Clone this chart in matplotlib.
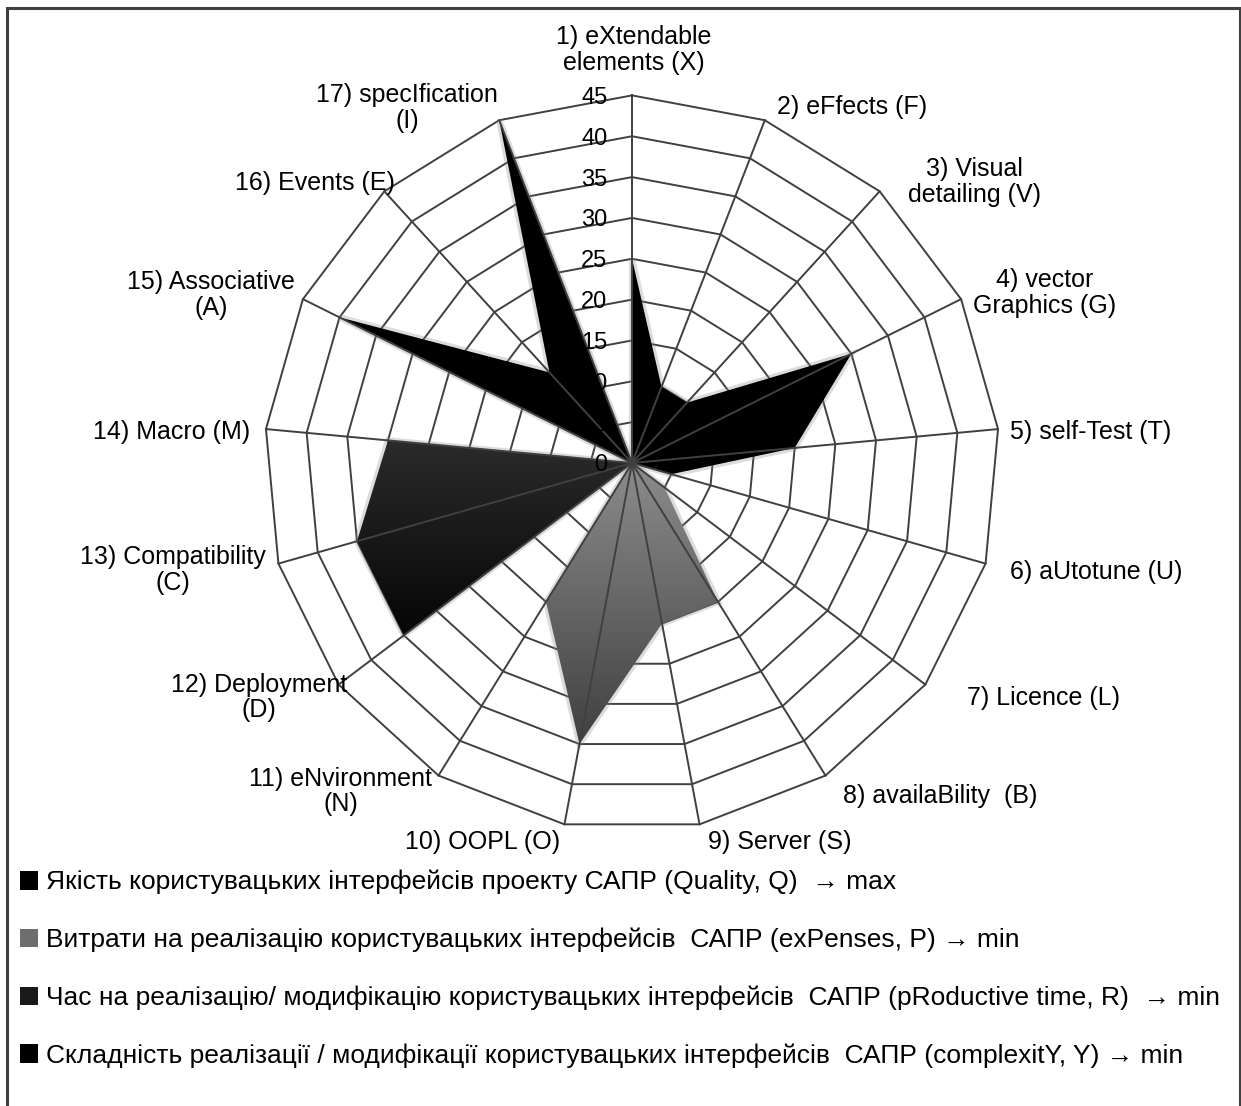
import numpy as np
import matplotlib
matplotlib.use("Agg")
import matplotlib.pyplot as plt
from matplotlib.patches import Polygon, Rectangle, Patch

# criteria (17 axes, clockwise from the top)
categories = [
    "1) eXtendable\nelements (X)", "2) eFfects (F)", "3) Visual\ndetailing (V)",
    "4) vector\nGraphics (G)", "5) self-Test (T)", "6) aUtotune (U)",
    "7) Licence (L)", "8) availaBility  (B)", "9) Server (S)", "10) OOPL (O)",
    "11) eNvironment\n(N)", "12) Deployment\n(D)", "13) Compatibility\n(C)",
    "14) Macro (M)", "15) Associative\n(A)", "16) Events (E)",
    "17) specIfication\n(I)",
]
quality    = [25, 10, 10, 30, 20, 5, 0, 0, 0, 0, 0, 0, 0, 0, 0, 0, 0]
expenses   = [0, 0, 0, 0, 0, 0, 5, 20, 20, 35, 20, 0, 0, 0, 0, 0, 0]
prod_time  = [0, 0, 0, 0, 0, 0, 0, 0, 0, 0, 0, 35, 35, 30, 0, 0, 0]
complexity = [0, 0, 0, 0, 0, 0, 0, 0, 0, 0, 0, 0, 0, 0, 40, 15, 45]
ring_ticks = [0, 5, 10, 15, 20, 25, 30, 35, 40, 45]
series_names = [
    "Якість користувацьких інтерфейсів проекту САПР (Quality, Q)  → max",
    "Витрати на реалізацію користувацьких інтерфейсів  САПР (exPenses, P) → min",
    "Час на реалізацію/ модифікацію користувацьких інтерфейсів  САПР (pRoductive time, R)  → min",
    "Складність реалізації / модифікації користувацьких інтерфейсів  САПР (complexitY, Y) → min",
]

W, H = 1241, 1106
CX, CY = 632, 463          # radar centre, pixels from top-left
PX = 367.6 / 45            # pixels per value unit
FONT = ["Liberation Sans", "DejaVu Sans"]
GRID = "#404040"

fig = plt.figure(figsize=(W / 100, H / 100), dpi=100)
ax = fig.add_axes([0, 0, 1, 1])
ax.set_xlim(-CX / PX, (W - CX) / PX)
ax.set_ylim(-(H - CY) / PX, CY / PX)
ax.axis("off")

n = len(categories)
theta = 2 * np.pi * np.arange(n) / n


def xy(vals):
    v = np.asarray(vals, float)
    return v * np.sin(theta), v * np.cos(theta)


# rings
rmax = ring_ticks[-1]
for r in ring_ticks[1:]:
    x, y = xy([r] * n)
    ax.plot(np.append(x, x[0]), np.append(y, y[0]), color=GRID, lw=1.4, zorder=1)


def area(vals, color=None, grad=None):
    x, y = xy(vals)
    pts = np.column_stack([x, y])
    # soft dithered-looking rim like the original
    ax.add_patch(Polygon(pts, closed=True, fill=False, ec="0.55", lw=4.5, alpha=0.3,
                         joinstyle="miter", zorder=2))
    if grad is None:
        ax.add_patch(Polygon(pts, closed=True, fc=color, ec="none", zorder=3))
    else:
        top, bot = grad
        poly = Polygon(pts, closed=True, fc="none", ec="none", zorder=3)
        ax.add_patch(poly)
        g = np.linspace(0, 1, 256)[:, None]
        c0, c1 = np.array(top), np.array(bot)
        img = (c0 + (c1 - c0) * g)[:, None, :].repeat(2, axis=1)
        im = ax.imshow(img, extent=[x.min(), x.max(), y.min(), y.max()], origin="upper",
                       aspect="auto", interpolation="bilinear", zorder=3)
        im.set_clip_path(poly)


area(quality, color="black")
area(expenses, grad=((0.55, 0.55, 0.55), (0.25, 0.25, 0.25)))
area(prod_time, grad=((0.17, 0.17, 0.17), (0.02, 0.02, 0.02)))
area(complexity, color="black")

# spokes on top of the fills
ox, oy = xy([rmax] * n)
for i in range(n):
    ax.plot([0, ox[i]], [0, oy[i]], color=GRID, lw=1.4, zorder=4)

# radial value labels along the top axis
for t in ring_ticks:
    ax.text(-3.0, t - 0.3, str(t), ha="right", va="center", fontsize=17,
            family=FONT, color="black", zorder=5)

# category labels: (dx, dy) in pixels from the outer vertex, alignment
lab_layout = [
    (2, 45, "center"), (12, 13, "left"), (95, 9, "center"), (84, 6, "center"),
    (12, -3, "left"), (24, -8, "left"), (42, -13, "left"), (17, -20, "left"),
    (8, -18, "left"), (-4, -18, "right"), (-98, -16, "center"),
    (-80, -13, "center"), (-106, -6, "center"), (-16, -3, "right"),
    (-92, 4, "center"), (11, 8, "right"), (-92, 12, "center"),
]
for i, lab in enumerate(categories):
    dx, dy, ha = lab_layout[i]
    ax.annotate(lab, xy=(ox[i], oy[i]), xytext=(dx, dy), textcoords="offset pixels",
                ha=ha, va="center", multialignment="center", fontsize=18,
                family=FONT, linespacing=1.1, zorder=6)

# legend
handles = [Patch(fc="black"), Patch(fc="#6e6e6e"), Patch(fc="#1a1a1a"), Patch(fc="black")]
fig.legend(handles, series_names, loc="upper left",
           bbox_to_anchor=(20 / W, 1 - 870 / H), frameon=False,
           prop={"family": FONT, "size": 19}, handlelength=0.7,
           handleheight=0.7, handletextpad=0.3, labelspacing=1.26,
           borderpad=0, borderaxespad=0)

# outer frame of the figure
fig.add_artist(Rectangle((7 / W, -0.02), (1240 - 7) / W, (H - 8) / H + 0.02,
                         transform=fig.transFigure, fill=False, ec=GRID, lw=2.2))

fig.savefig("out.png", dpi=100)
